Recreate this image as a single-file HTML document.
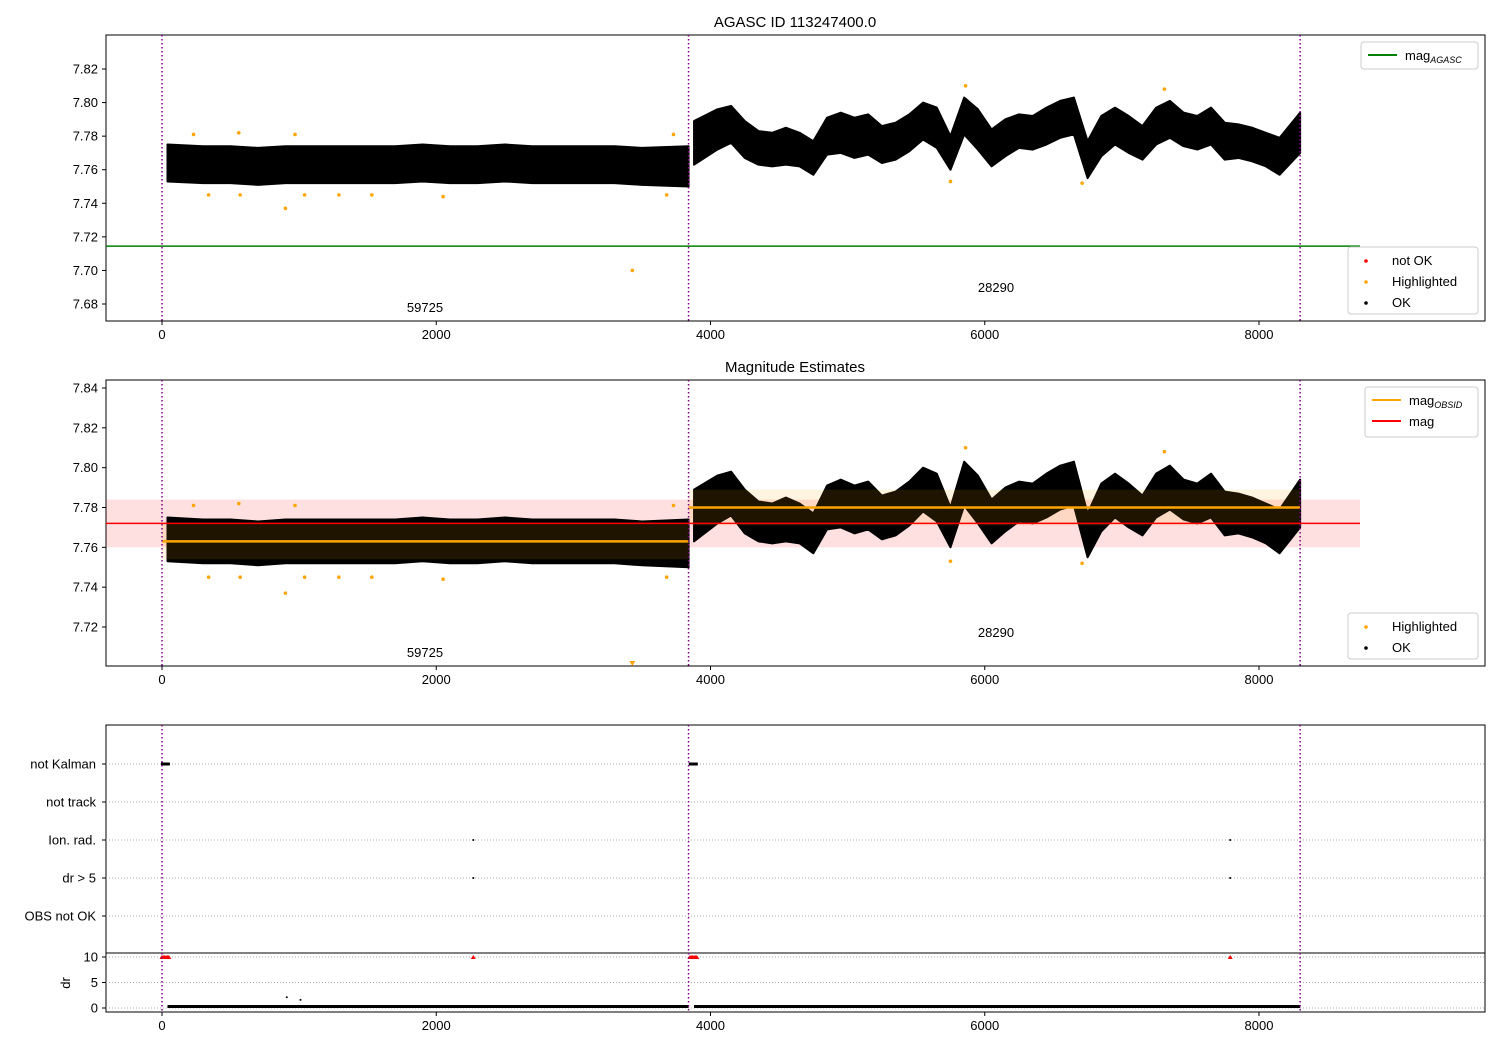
<!DOCTYPE html>
<html><head><meta charset="utf-8"><style>
body{margin:0;background:#fff;font-family:"Liberation Sans","DejaVu Sans",sans-serif}
svg text{font-family:"Liberation Sans","DejaVu Sans",sans-serif;fill:#000}
</style></head><body>
<svg id="c" width="1500" height="1050" xmlns="http://www.w3.org/2000/svg"></svg>
<script>
// ---- data ----
const segStarts = [0, 3840];
const segEnds = [3840, 8300];
const obsids = ["59725", "28290"];
const magObsid = [7.763, 7.780];
const magAll = 7.772;
const magErr = 0.012;
const magAgasc = 7.7145;
const binX = [100,300,500,700,900,1100,1300,1500,1700,1900,2100,2300,2500,2700,2900,3100,3300,3500,3700,
 3950,4050,4150,4250,4350,4450,4550,4650,4750,4850,4950,5050,5150,5250,5350,5450,5550,5650,5750,5850,5950,6050,6150,6250,6350,6450,6550,6650,6750,6850,6950,7050,7150,7250,7350,7450,7550,7650,7750,7850,7950,8050,8150,8250];
const binMid = [7.764,7.763,7.763,7.762,7.763,7.763,7.763,7.763,7.763,7.764,7.763,7.763,7.764,7.763,7.763,7.763,7.763,7.762,7.762,
 7.776,7.784,7.787,7.778,7.773,7.772,7.774,7.772,7.767,7.780,7.782,7.779,7.781,7.775,7.777,7.782,7.789,7.785,7.770,7.792,7.784,7.773,7.779,7.783,7.782,7.786,7.790,7.792,7.766,7.780,7.786,7.781,7.776,7.786,7.790,7.784,7.782,7.786,7.777,7.777,7.775,7.772,7.768,7.782];
const binHalf = [0.011,0.011,0.011,0.011,0.011,0.011,0.011,0.011,0.011,0.011,0.011,0.011,0.011,0.011,0.011,0.011,0.011,0.011,0.012,
 0.013,0.012,0.011,0.011,0.010,0.010,0.011,0.010,0.010,0.011,0.012,0.012,0.012,0.011,0.011,0.011,0.011,0.012,0.010,0.011,0.012,0.011,0.011,0.010,0.010,0.011,0.011,0.011,0.011,0.012,0.011,0.011,0.010,0.011,0.011,0.010,0.010,0.011,0.011,0.010,0.010,0.010,0.011,0.012];
const hiX = [230,340,560,570,900,970,1040,1290,1530,2050,3430,3680,3730,5750,5860,6710,7310];
const hiY = [7.781,7.745,7.782,7.745,7.737,7.781,7.745,7.745,7.745,7.744,7.700,7.745,7.781,7.753,7.810,7.752,7.808];
const flagCats = ["not Kalman","not track","Ion. rad.","dr > 5","OBS not OK"];
const kalmanX = [0,10,20,30,40,50,3850,3860,3870,3880,3890,3900];
const ionX = [2270,7790];
const drX = [2270,7790];
const drTriX = [0,10,20,30,40,50,3850,3860,3870,3880,3890,3900,2270,7790];
const drOutX = [910,1010];
const drOutY = [2.1,1.6];
const drBase = 0.3;
const xTicks = [0,2000,4000,6000,8000];
const y1Ticks = [7.68,7.70,7.72,7.74,7.76,7.78,7.80,7.82];
const y2Ticks = [7.72,7.74,7.76,7.78,7.80,7.82,7.84];
const drTicks = [0,5,10];

// ---- scales ----
const L=106,R=1485;
const sx = v => 162 + v*0.137125;
const P1 = {top:35,bot:321, y: v => 69 + (7.82-v)*1678.6};
const P2 = {top:380,bot:666, y: v => 388 + (7.84-v)*1991.7};
const catY = i => 764 + i*38;
const dy = v => 1008 - v*5.1;

const S = document.getElementById('c');
const NS='http://www.w3.org/2000/svg';
function mk(tag, attrs, parent){const e=document.createElementNS(NS,tag);for(const k in attrs)e.setAttribute(k,attrs[k]);(parent||S).appendChild(e);return e;}
function txt(s,x,y,anchor,size,parent){const t=mk('text',{x:x,y:y,'text-anchor':anchor||'middle','font-size':size||13},parent);t.textContent=s;return t;}

function frame(top,bot){
  mk('rect',{x:L,y:top,width:R-L,height:bot-top,fill:'none',stroke:'#000','stroke-width':1});
}
function xaxis(bot){
  const g=mk('g',{});
  
  
  xTicks.forEach(t=>{mk('line',{x1:sx(t),x2:sx(t),y1:bot,y2:bot+4,stroke:'#000'},g);txt(String(t),sx(t),bot+18,'middle',13,g);});
}
function yaxis(ticks,fy,name){
  const g=mk('g',{});
  
  
  ticks.forEach(t=>{mk('line',{x1:L-4,x2:L,y1:fy(t),y2:fy(t),stroke:'#000'},g);txt(t.toFixed(2),L-8,fy(t)+4.5,'end',13,g);});
}
function vlines(top,bot){
  [0,3840,8300].forEach(v=>{const l=mk('line',{x1:sx(v),x2:sx(v),y1:top,y2:bot,stroke:'#800080','stroke-width':1.5,'stroke-dasharray':'1.5,2.5'});
  
  });
}
function band(P,name){
  const g=mk('g',{});
  
  
  const segs=[[0,19,40,3840],[19,binX.length,3880,8300]];
  segs.forEach(s=>{
    const up=[],lo=[];
    for(let i=s[0];i<s[1];i++){
      let x=binX[i];
      if(i===s[0])x=s[2]; if(i===s[1]-1)x=s[3];
      up.push(sx(x)+','+P.y(binMid[i]+binHalf[i]));
      lo.unshift(sx(x)+','+P.y(binMid[i]-binHalf[i]));
    }
    mk('polygon',{points:up.concat(lo).join(' '),fill:'#000',stroke:'#000','stroke-width':2,'stroke-linejoin':'round'},g);
  });
}
function highlights(P,clipBottom){
  const g=mk('g',{});
  
  
  hiX.forEach((x,i)=>{
    let y=P.y(hiY[i]);
    if(y>P.bot){ if(clipBottom) mk('polygon',{points:`${sx(x)-3},${P.bot-5} ${sx(x)+3},${P.bot-5} ${sx(x)},${P.bot}`,fill:'orange'},g); return;}
    mk('circle',{cx:sx(x),cy:y,r:1.8,fill:'orange'},g);
  });
}
function legend(x,y,w,h,items,name){
  const g=mk('g',{});
  
  
  mk('rect',{x:x,y:y,width:w,height:h,fill:'#fff',stroke:'#ccc',rx:3},g);
  items.forEach((it,i)=>{
    const yy=y+13+i*21;
    if(it.type==='line') mk('line',{x1:x+7,x2:x+36,y1:yy,y2:yy,stroke:it.c,'stroke-width':2},g);
    else mk('circle',{cx:x+18,cy:yy+1,r:1.8,fill:it.c},g);
    const t=txt(it.label,x+44,yy+5,'start',13,g);
    if(it.sub){const ts=mk('tspan',{'font-size':9,'font-style':'italic',dy:3},t);ts.textContent=it.sub;}
  });
}

// ---- panel 1 ----
txt('AGASC ID 113247400.0',795,27,'middle',15);
frame(P1.top,P1.bot);xaxis(P1.bot);yaxis(y1Ticks,P1.y,'y-axis-panel1');
band(P1,'ok-points-panel1');
highlights(P1,false);
const g1=mk('line',{x1:L,x2:1360,y1:P1.y(magAgasc),y2:P1.y(magAgasc),stroke:'green','stroke-width':1.5});


vlines(P1.top,P1.bot);
txt(obsids[0],425,312,'middle',13);txt(obsids[1],996,292,'middle',13);
legend(1361,42,117,27,[{type:'line',c:'green',label:'mag',sub:'AGASC'}],'legend-agasc');
legend(1348,247,130,67,[{type:'pt',c:'red',label:'not OK'},{type:'pt',c:'orange',label:'Highlighted'},{type:'pt',c:'#000',label:'OK'}],'legend-points-panel1');

// ---- panel 2 ----
txt('Magnitude Estimates',795,372,'middle',15);
frame(P2.top,P2.bot);xaxis(P2.bot);yaxis(y2Ticks,P2.y,'y-axis-panel2');
const rb=mk('rect',{x:L,y:P2.y(magAll+magErr),width:1360-L,height:P2.y(magAll-magErr)-P2.y(magAll+magErr),fill:'rgba(255,0,0,0.12)'});


band(P2,'ok-points-panel2');
highlights(P2,true);
magObsid.forEach((m,i)=>{
  const ob=mk('rect',{x:sx(segStarts[i]),y:P2.y(m+0.009),width:sx(segEnds[i])-sx(segStarts[i]),height:P2.y(m-0.009)-P2.y(m+0.009),fill:'rgba(255,165,0,0.12)'});
  
  
  const l=mk('line',{x1:sx(segStarts[i]),x2:sx(segEnds[i]),y1:P2.y(m),y2:P2.y(m),stroke:'orange','stroke-width':2.5});
  
  
});
const rl=mk('line',{x1:L,x2:1360,y1:P2.y(magAll),y2:P2.y(magAll),stroke:'red','stroke-width':1.5});


vlines(P2.top,P2.bot);
txt(obsids[0],425,657,'middle',13);txt(obsids[1],996,637,'middle',13);
legend(1365,387,113,50,[{type:'line',c:'orange',label:'mag',sub:'OBSID'},{type:'line',c:'red',label:'mag'}],'legend-mag');
legend(1348,613,130,46,[{type:'pt',c:'orange',label:'Highlighted'},{type:'pt',c:'#000',label:'OK'}],'legend-points-panel2');

// ---- panel 3 flags ----
frame(725,953);
flagCats.forEach((c,i)=>{
  mk('line',{x1:L,x2:R,y1:catY(i),y2:catY(i),stroke:'#aaa','stroke-dasharray':'1,2'});
  mk('line',{x1:L-4,x2:L,y1:catY(i),y2:catY(i),stroke:'#000'});
  const t=txt(c,L-10,catY(i)+4.5,'end',13);
  
  
});
kalmanX.forEach(x=>mk('rect',{x:sx(x)-1,y:catY(0)-1.5,width:2,height:3,fill:'#000'}));
ionX.forEach(x=>mk('circle',{cx:sx(x),cy:catY(2),r:1,fill:'#000'}));
drX.forEach(x=>mk('circle',{cx:sx(x),cy:catY(3),r:1,fill:'#000'}));
vlines(725,953);

// ---- dr panel ----
frame(953,1012);xaxis(1012);
drTicks.forEach(t=>{mk('line',{x1:L-4,x2:L,y1:dy(t),y2:dy(t),stroke:'#000'});txt(String(t),L-8,dy(t)+4.5,'end',13);
  mk('line',{x1:L,x2:R,y1:dy(t),y2:dy(t),stroke:'#aaa','stroke-dasharray':'1,2'});});
const dt=txt('dr',70,983,'middle',13);dt.setAttribute('transform','rotate(-90 70 983)');
[[40,3840],[3880,8300]].forEach(s=>{const l=mk('line',{x1:sx(s[0]),x2:sx(s[1]),y1:dy(drBase),y2:dy(drBase),stroke:'#000','stroke-width':3});
  
  });
drOutX.forEach((x,i)=>mk('circle',{cx:sx(x),cy:dy(drOutY[i]),r:1,fill:'#000'}));
drTriX.forEach(x=>mk('polygon',{points:`${sx(x)-2.5},${dy(10)+2} ${sx(x)+2.5},${dy(10)+2} ${sx(x)},${dy(10)-2}`,fill:'red'}));
vlines(953,1012);
</script>
</body></html>
